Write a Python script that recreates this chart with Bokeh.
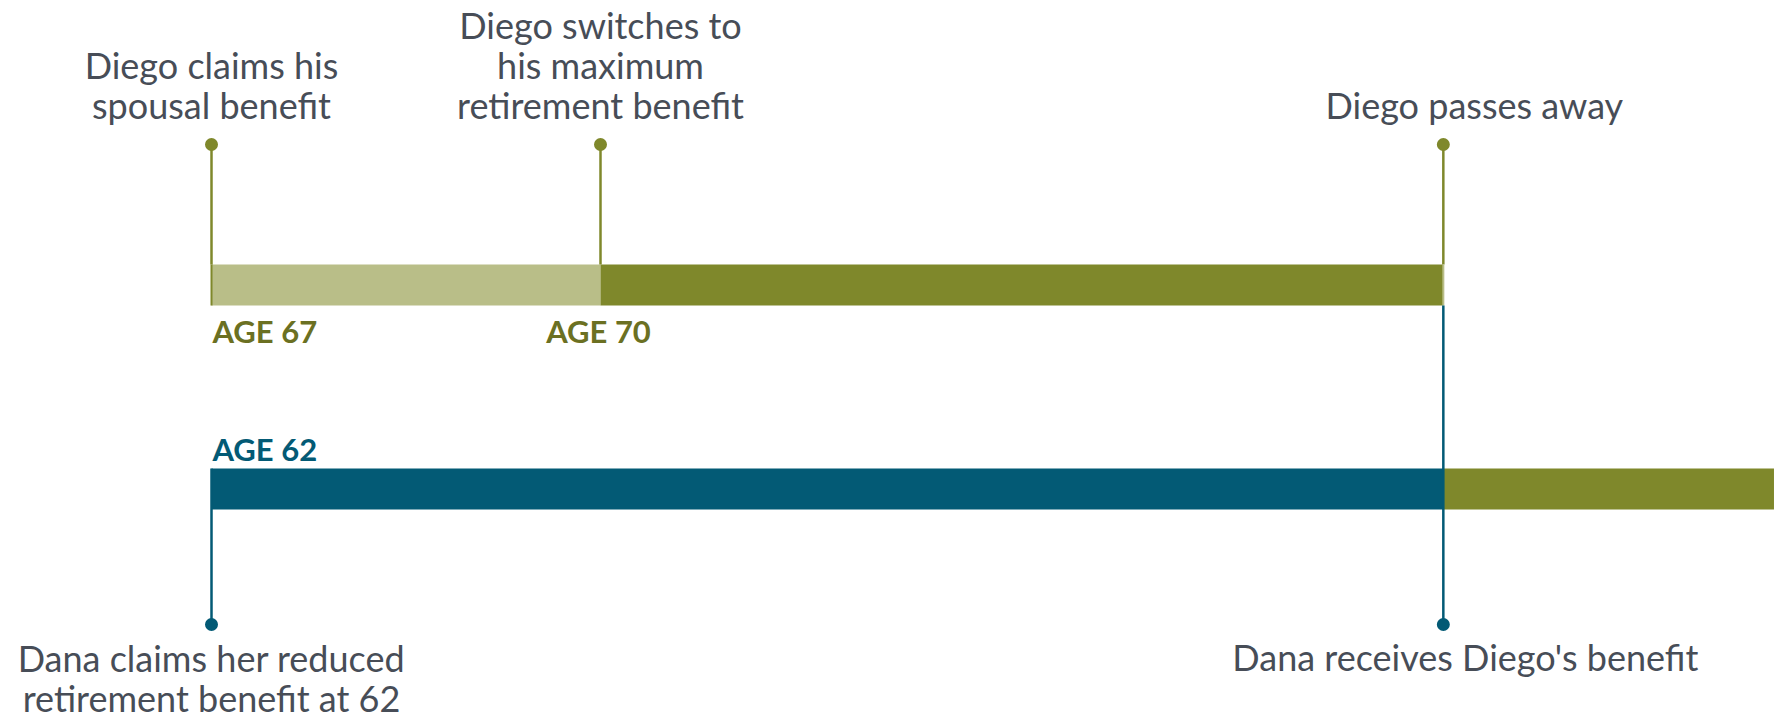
from bokeh.plotting import figure
from bokeh.models import Range1d
from bokeh.core.properties import value
from bokeh.embed import file_html
from bokeh.resources import INLINE

# ---- data (timeline axis = Diego's age) ----
diego_claim_age = 67
diego_switch_age = 70
diego_death_age = 76.5
timeline_end_age = 79.05
dana_claim_age = 62
age_gap = 5  # Diego is 5 years older than Dana

label_claim = ["Diego claims his", "spousal benefit"]
label_switch = ["Diego switches to", "his maximum", "retirement benefit"]
label_death = ["Diego passes away"]
label_dana_claim = ["Dana claims her reduced", "retirement benefit at 62"]
label_dana_receive = ["Dana receives Diego's benefit"]
age_tick_labels = ["AGE %d" % diego_claim_age, "AGE %d" % diego_switch_age, "AGE %d" % dana_claim_age]

# ---- styles / layout ----
OLIVE = "#7f882b"
OLIVE_LIGHT = "#b9be88"
OLIVE_TEXT = "#6b7022"
TEAL = "#035a75"
GRAY = "#474d57"
FONT = value("Lato")
REG_SIZE = "36px"
BOLD_SIZE = "31px"
W, H = 1777, 718
PX_PER_YEAR = (600 - 211) / 3.0
x0 = diego_claim_age - 211 / PX_PER_YEAR
x1 = x0 + W / PX_PER_YEAR

TOP_BAR = (264, 305)
BOT_BAR = (468, 509)
TOP_DOT = 144
BOT_DOT = 624
LINE_GAP = 40
SHIFT = -14      # baseline correction for regular text
BSHIFT = -12     # baseline correction for bold text

p = figure(width=W, height=H, x_range=Range1d(x0, x1), y_range=Range1d(H, 0),
           output_backend="svg", toolbar_location=None, min_border=0,
           x_axis_location=None, y_axis_location=None)
p.grid.visible = False
p.outline_line_color = None
p.background_fill_color = "white"
p.border_fill_color = "white"

dana_x = dana_claim_age + age_gap

# bars
p.quad(left=[diego_claim_age], right=[diego_switch_age], top=[TOP_BAR[0]], bottom=[TOP_BAR[1]],
       fill_color=OLIVE_LIGHT, line_color=None)
p.quad(left=[diego_switch_age], right=[diego_death_age], top=[TOP_BAR[0]], bottom=[TOP_BAR[1]],
       fill_color=OLIVE, line_color=None)
p.quad(left=[dana_x], right=[diego_death_age], top=[BOT_BAR[0]], bottom=[BOT_BAR[1]],
       fill_color=TEAL, line_color=None)
p.quad(left=[diego_death_age], right=[timeline_end_age], top=[BOT_BAR[0]], bottom=[BOT_BAR[1]],
       fill_color=OLIVE, line_color=None)

# event stems
top_events = [diego_claim_age, diego_switch_age, diego_death_age]
p.segment(x0=top_events, x1=top_events, y0=[TOP_DOT] * 3, y1=[TOP_BAR[0]] * 3,
          line_color=OLIVE, line_width=2.5)
p.segment(x0=[diego_claim_age], x1=[diego_claim_age], y0=[TOP_BAR[0]], y1=[TOP_BAR[1]],
          line_color=OLIVE, line_width=2)
p.segment(x0=[diego_death_age], x1=[diego_death_age], y0=[TOP_BAR[0]], y1=[TOP_BAR[1]],
          line_color=OLIVE_LIGHT, line_width=2)
p.scatter(x=top_events, y=[TOP_DOT] * 3, size=13, marker="circle",
          fill_color=OLIVE, line_color=None)

bot_events = [dana_x, diego_death_age]
p.segment(x0=[dana_x], x1=[dana_x], y0=[BOT_BAR[0]], y1=[BOT_DOT],
          line_color=TEAL, line_width=2.5)
p.segment(x0=[diego_death_age], x1=[diego_death_age], y0=[TOP_BAR[1]], y1=[BOT_DOT],
          line_color=TEAL, line_width=2.5)
p.scatter(x=bot_events, y=[BOT_DOT] * 2, size=13, marker="circle",
          fill_color=TEAL, line_color=None)

# descriptive labels
def lines(x, last_baseline, texts, x_offset=0):
    n = len(texts)
    ys = [last_baseline + SHIFT - LINE_GAP * (n - 1 - i) for i in range(n)]
    p.text(x=[x] * n, y=ys, text=texts, text_font=FONT, text_font_size=REG_SIZE,
           text_color=GRAY, text_align="center", text_baseline="alphabetic",
           x_offset=x_offset)

lines(diego_claim_age, 118, label_claim)
lines(diego_switch_age, 118, label_switch)
lines(diego_death_age, 118, label_death, x_offset=31)
lines(dana_x, 711, label_dana_claim)
lines(diego_death_age, 670, label_dana_receive, x_offset=22)

# age labels
def age_label(x, baseline, txt, color, align, xo=0):
    p.text(x=[x], y=[baseline + BSHIFT], text=[txt], text_font=FONT,
           text_font_size=BOLD_SIZE, text_font_style="bold", text_color=color,
           text_align=align, text_baseline="alphabetic", x_offset=xo)

age_label(diego_claim_age, 342, age_tick_labels[0], OLIVE_TEXT, "left", 1)
age_label(diego_switch_age, 342, age_tick_labels[1], OLIVE_TEXT, "center", -2)
age_label(dana_x, 460, age_tick_labels[2], TEAL, "left", 1)

open("out.html", "w").write(file_html(p, INLINE))
